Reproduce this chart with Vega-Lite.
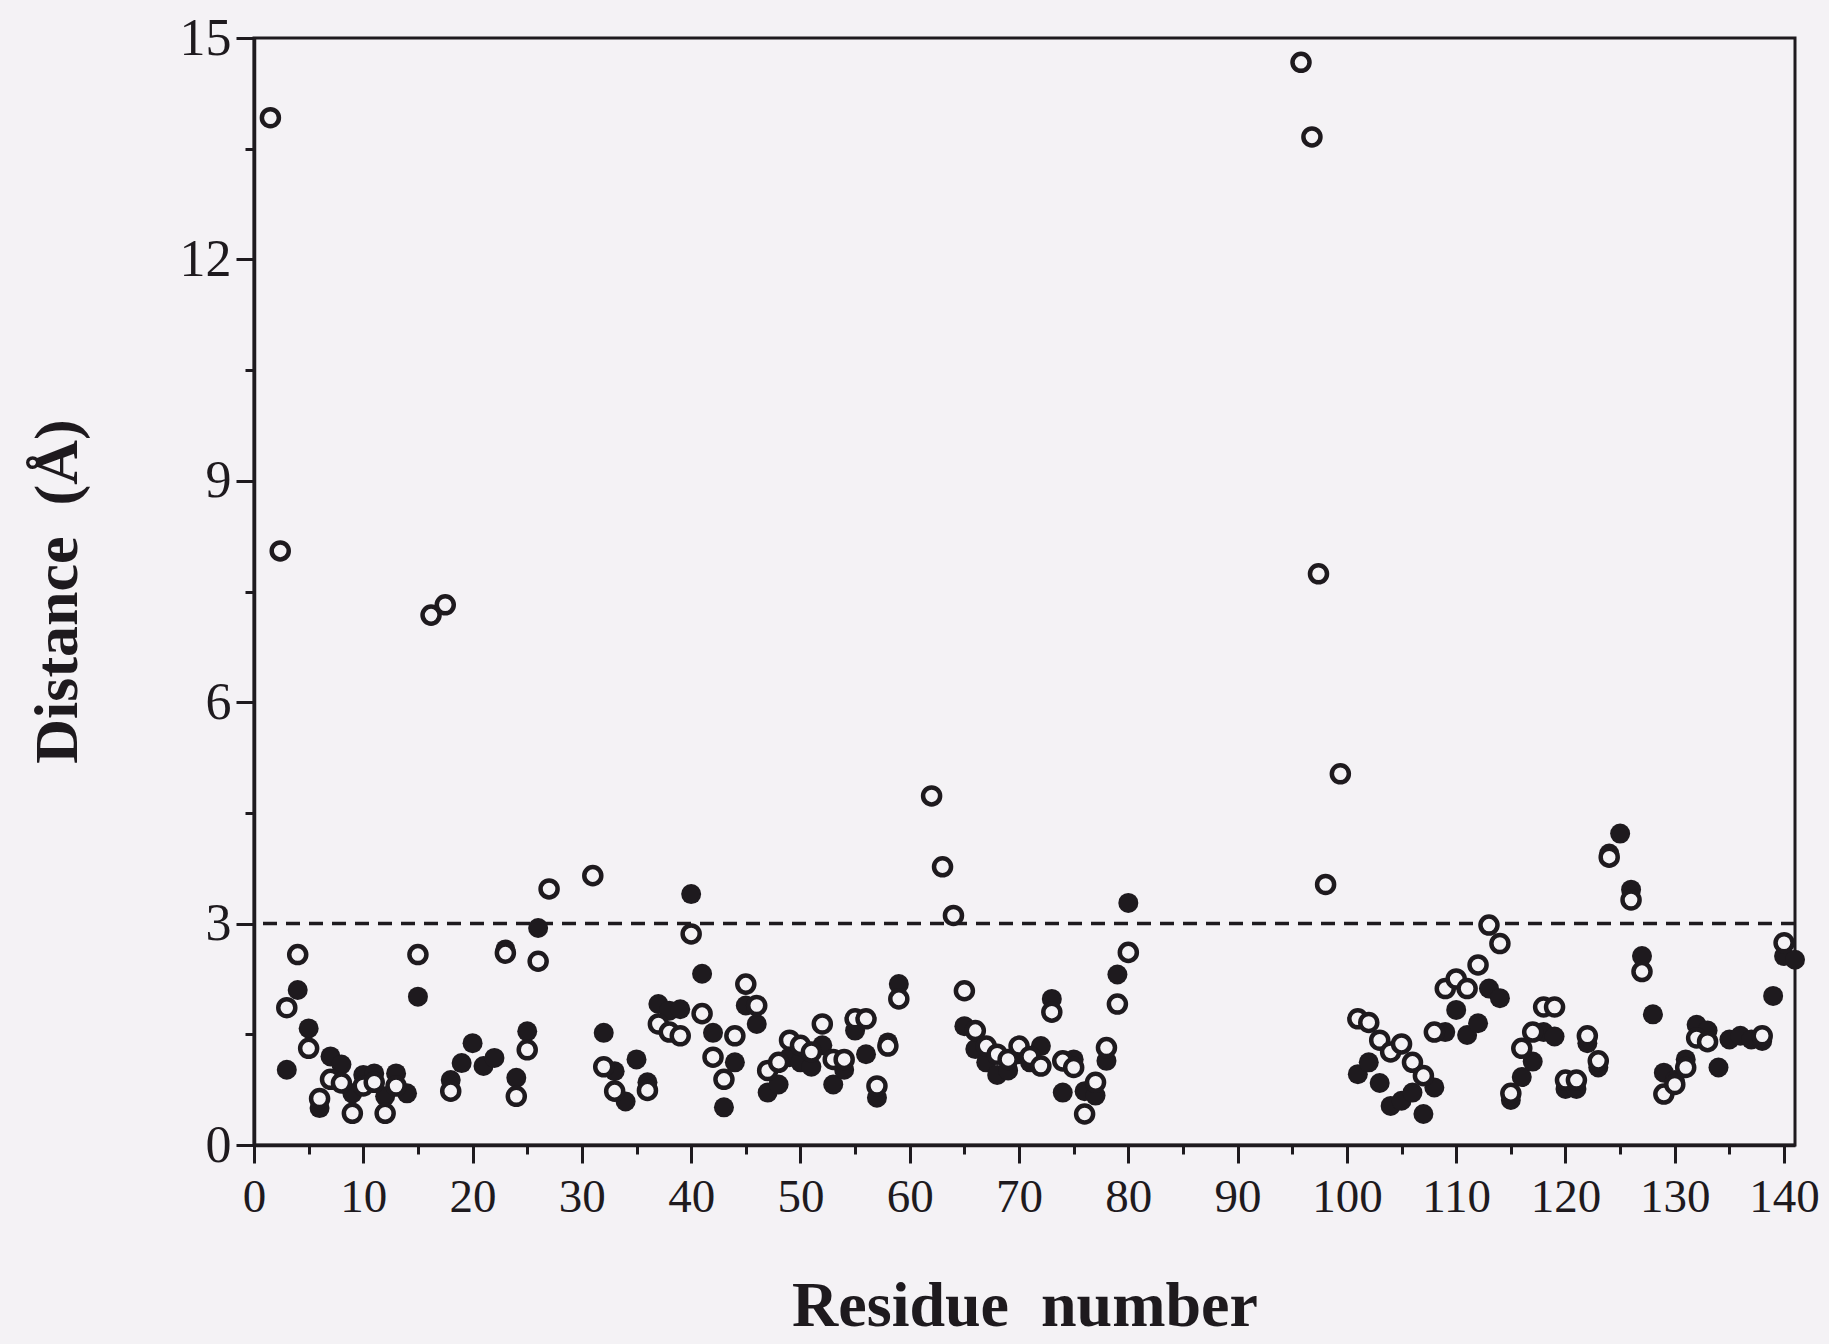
{
  "$schema": "https://vega.github.io/schema/vega-lite/v6.json",
  "width": 1541,
  "height": 1107,
  "autosize": {"type": "none"},
  "padding": {"left": 254, "top": 38, "right": 34, "bottom": 199},
  "background": "#f4f2f5",
  "config": {
    "view": {"stroke": "#1e1a1e", "strokeWidth": 3},
    "axis": {
      "domainColor": "#1e1a1e", "domainWidth": 3.5, "tickColor": "#1e1a1e", "tickWidth": 3,
      "labelColor": "#1e1a1e", "labelFont": "Liberation Serif", "labelFontSize": 47,
      "titleColor": "#1e1a1e", "titleFont": "Liberation Serif", "titleFontSize": 62, "titleFontWeight": "bold",
      "grid": false
    }
  },
  "datasets": {
    "pts": [
      {"r":3,"d":1.02,"s":"filled"},{"r":4,"d":2.10,"s":"filled"},{"r":5,"d":1.58,"s":"filled"},{"r":6,"d":0.50,"s":"filled"},{"r":7,"d":1.20,"s":"filled"},{"r":8,"d":1.09,"s":"filled"},{"r":9,"d":0.70,"s":"filled"},{"r":10,"d":0.95,"s":"filled"},{"r":11,"d":0.97,"s":"filled"},{"r":12,"d":0.66,"s":"filled"},{"r":13,"d":0.97,"s":"filled"},{"r":14,"d":0.70,"s":"filled"},{"r":15,"d":2.01,"s":"filled"},{"r":18,"d":0.88,"s":"filled"},{"r":19,"d":1.11,"s":"filled"},{"r":20,"d":1.38,"s":"filled"},{"r":21,"d":1.07,"s":"filled"},{"r":22,"d":1.18,"s":"filled"},{"r":23,"d":2.65,"s":"filled"},{"r":24,"d":0.91,"s":"filled"},{"r":25,"d":1.54,"s":"filled"},{"r":26,"d":2.94,"s":"filled"},
      {"r":32,"d":1.52,"s":"filled"},{"r":33,"d":1.00,"s":"filled"},{"r":34,"d":0.59,"s":"filled"},{"r":35,"d":1.16,"s":"filled"},{"r":36,"d":0.85,"s":"filled"},{"r":37,"d":1.91,"s":"filled"},{"r":38,"d":1.82,"s":"filled"},{"r":39,"d":1.84,"s":"filled"},{"r":40,"d":3.40,"s":"filled"},{"r":41,"d":2.32,"s":"filled"},{"r":42,"d":1.52,"s":"filled"},{"r":43,"d":0.51,"s":"filled"},{"r":44,"d":1.12,"s":"filled"},{"r":45,"d":1.89,"s":"filled"},{"r":46,"d":1.64,"s":"filled"},{"r":47,"d":0.71,"s":"filled"},{"r":48,"d":0.82,"s":"filled"},{"r":49,"d":1.19,"s":"filled"},{"r":50,"d":1.12,"s":"filled"},{"r":51,"d":1.06,"s":"filled"},{"r":52,"d":1.35,"s":"filled"},{"r":53,"d":0.82,"s":"filled"},{"r":54,"d":1.02,"s":"filled"},{"r":55,"d":1.55,"s":"filled"},{"r":56,"d":1.23,"s":"filled"},{"r":57,"d":0.64,"s":"filled"},{"r":58,"d":1.39,"s":"filled"},{"r":59,"d":2.18,"s":"filled"},
      {"r":65,"d":1.61,"s":"filled"},{"r":66,"d":1.30,"s":"filled"},{"r":67,"d":1.12,"s":"filled"},{"r":68,"d":0.95,"s":"filled"},{"r":69,"d":1.01,"s":"filled"},{"r":70,"d":1.23,"s":"filled"},{"r":71,"d":1.12,"s":"filled"},{"r":72,"d":1.34,"s":"filled"},{"r":73,"d":1.98,"s":"filled"},{"r":74,"d":0.71,"s":"filled"},{"r":75,"d":1.16,"s":"filled"},{"r":76,"d":0.73,"s":"filled"},{"r":77,"d":0.67,"s":"filled"},{"r":78,"d":1.14,"s":"filled"},{"r":79,"d":2.31,"s":"filled"},{"r":80,"d":3.28,"s":"filled"},
      {"r":101,"d":0.96,"s":"filled"},{"r":102,"d":1.12,"s":"filled"},{"r":103,"d":0.84,"s":"filled"},{"r":104,"d":0.53,"s":"filled"},{"r":105,"d":0.60,"s":"filled"},{"r":106,"d":0.71,"s":"filled"},{"r":107,"d":0.42,"s":"filled"},{"r":108,"d":0.78,"s":"filled"},{"r":109,"d":1.53,"s":"filled"},{"r":110,"d":1.83,"s":"filled"},{"r":111,"d":1.49,"s":"filled"},{"r":112,"d":1.65,"s":"filled"},{"r":113,"d":2.12,"s":"filled"},{"r":114,"d":1.99,"s":"filled"},{"r":115,"d":0.61,"s":"filled"},{"r":116,"d":0.92,"s":"filled"},{"r":117,"d":1.13,"s":"filled"},{"r":118,"d":1.53,"s":"filled"},{"r":119,"d":1.47,"s":"filled"},{"r":120,"d":0.76,"s":"filled"},{"r":121,"d":0.76,"s":"filled"},{"r":122,"d":1.38,"s":"filled"},{"r":123,"d":1.05,"s":"filled"},{"r":124,"d":3.95,"s":"filled"},{"r":125,"d":4.22,"s":"filled"},{"r":126,"d":3.46,"s":"filled"},{"r":127,"d":2.56,"s":"filled"},{"r":128,"d":1.77,"s":"filled"},{"r":129,"d":0.98,"s":"filled"},{"r":130,"d":0.88,"s":"filled"},{"r":131,"d":1.16,"s":"filled"},{"r":132,"d":1.63,"s":"filled"},{"r":133,"d":1.55,"s":"filled"},{"r":134,"d":1.05,"s":"filled"},{"r":135,"d":1.43,"s":"filled"},{"r":136,"d":1.48,"s":"filled"},{"r":137,"d":1.43,"s":"filled"},{"r":138,"d":1.41,"s":"filled"},{"r":139,"d":2.02,"s":"filled"},{"r":140,"d":2.56,"s":"filled"},{"r":141,"d":2.51,"s":"filled"},
      {"r":1.5,"d":13.92,"s":"open"},{"r":2.4,"d":8.05,"s":"open"},{"r":3,"d":1.86,"s":"open"},{"r":4,"d":2.58,"s":"open"},{"r":5,"d":1.31,"s":"open"},{"r":6,"d":0.63,"s":"open"},{"r":7,"d":0.89,"s":"open"},{"r":8,"d":0.84,"s":"open"},{"r":9,"d":0.43,"s":"open"},{"r":10,"d":0.80,"s":"open"},{"r":11,"d":0.85,"s":"open"},{"r":12,"d":0.43,"s":"open"},{"r":13,"d":0.80,"s":"open"},{"r":15,"d":2.58,"s":"open"},{"r":16.2,"d":7.18,"s":"open"},{"r":17.5,"d":7.32,"s":"open"},{"r":18,"d":0.73,"s":"open"},{"r":23,"d":2.60,"s":"open"},{"r":24,"d":0.66,"s":"open"},{"r":25,"d":1.29,"s":"open"},{"r":26,"d":2.49,"s":"open"},{"r":27,"d":3.47,"s":"open"},{"r":31,"d":3.65,"s":"open"},
      {"r":32,"d":1.06,"s":"open"},{"r":33,"d":0.73,"s":"open"},{"r":36,"d":0.74,"s":"open"},{"r":37,"d":1.64,"s":"open"},{"r":38,"d":1.53,"s":"open"},{"r":39,"d":1.48,"s":"open"},{"r":40,"d":2.86,"s":"open"},{"r":41,"d":1.78,"s":"open"},{"r":42,"d":1.19,"s":"open"},{"r":43,"d":0.89,"s":"open"},{"r":44,"d":1.48,"s":"open"},{"r":45,"d":2.18,"s":"open"},{"r":46,"d":1.89,"s":"open"},{"r":47,"d":1.01,"s":"open"},{"r":48,"d":1.12,"s":"open"},{"r":49,"d":1.42,"s":"open"},{"r":50,"d":1.35,"s":"open"},{"r":51,"d":1.26,"s":"open"},{"r":52,"d":1.64,"s":"open"},{"r":53,"d":1.16,"s":"open"},{"r":54,"d":1.16,"s":"open"},{"r":55,"d":1.71,"s":"open"},{"r":56,"d":1.71,"s":"open"},{"r":57,"d":0.80,"s":"open"},{"r":58,"d":1.34,"s":"open"},{"r":59,"d":1.98,"s":"open"},
      {"r":62,"d":4.73,"s":"open"},{"r":63,"d":3.77,"s":"open"},{"r":64,"d":3.11,"s":"open"},{"r":65,"d":2.09,"s":"open"},{"r":66,"d":1.55,"s":"open"},{"r":67,"d":1.34,"s":"open"},{"r":68,"d":1.23,"s":"open"},{"r":69,"d":1.16,"s":"open"},{"r":70,"d":1.34,"s":"open"},{"r":71,"d":1.20,"s":"open"},{"r":72,"d":1.07,"s":"open"},{"r":73,"d":1.80,"s":"open"},{"r":74,"d":1.14,"s":"open"},{"r":75,"d":1.05,"s":"open"},{"r":76,"d":0.42,"s":"open"},{"r":77,"d":0.85,"s":"open"},{"r":78,"d":1.32,"s":"open"},{"r":79,"d":1.91,"s":"open"},{"r":80,"d":2.61,"s":"open"},
      {"r":95.8,"d":14.67,"s":"open"},{"r":96.8,"d":13.66,"s":"open"},{"r":97.4,"d":7.74,"s":"open"},{"r":98.05,"d":3.53,"s":"open"},{"r":99.4,"d":5.03,"s":"open"},
      {"r":101,"d":1.71,"s":"open"},{"r":102,"d":1.66,"s":"open"},{"r":103,"d":1.42,"s":"open"},{"r":104,"d":1.26,"s":"open"},{"r":105,"d":1.37,"s":"open"},{"r":106,"d":1.12,"s":"open"},{"r":107,"d":0.94,"s":"open"},{"r":108,"d":1.53,"s":"open"},{"r":109,"d":2.12,"s":"open"},{"r":110,"d":2.25,"s":"open"},{"r":111,"d":2.12,"s":"open"},{"r":112,"d":2.44,"s":"open"},{"r":113,"d":2.98,"s":"open"},{"r":114,"d":2.73,"s":"open"},{"r":115,"d":0.70,"s":"open"},{"r":116,"d":1.31,"s":"open"},{"r":117,"d":1.53,"s":"open"},{"r":118,"d":1.87,"s":"open"},{"r":119,"d":1.87,"s":"open"},{"r":120,"d":0.88,"s":"open"},{"r":121,"d":0.88,"s":"open"},{"r":122,"d":1.48,"s":"open"},{"r":123,"d":1.14,"s":"open"},{"r":124,"d":3.90,"s":"open"},{"r":126,"d":3.32,"s":"open"},{"r":127,"d":2.35,"s":"open"},{"r":129,"d":0.69,"s":"open"},{"r":130,"d":0.82,"s":"open"},{"r":131,"d":1.05,"s":"open"},{"r":132,"d":1.45,"s":"open"},{"r":133,"d":1.40,"s":"open"},{"r":138,"d":1.48,"s":"open"},{"r":140,"d":2.74,"s":"open"}
    ]
  },
  "layer": [
    {
      "data": {"values": [{"v": 3}]},
      "mark": {"type": "rule", "strokeDash": [14, 9], "strokeWidth": 3.5, "color": "#1e1a1e"},
      "encoding": {
        "y": {"field": "v", "type": "quantitative", "scale": {"domain": [0, 15], "nice": false},
          "axis": {"orient": "left", "values": [1.5, 4.5, 7.5, 10.5, 13.5], "tickSize": 9, "labels": false, "domain": false, "title": null}}
      }
    },
    {
      "data": {"name": "pts"},
      "transform": [{"filter": "datum.s == 'filled'"}],
      "mark": {"type": "point", "shape": "circle", "filled": true, "color": "#1e1a1e", "opacity": 1, "size": 400},
      "encoding": {
        "x": {"field": "r", "type": "quantitative", "scale": {"domain": [0, 141], "nice": false},
          "axis": {"orient": "bottom", "values": [5, 15, 25, 35, 45, 55, 65, 75, 85, 95, 105, 115, 125, 135], "tickSize": 9, "labels": false, "domain": false, "title": null}},
        "y": {"field": "d", "type": "quantitative", "scale": {"domain": [0, 15], "nice": false},
          "axis": {"orient": "left", "values": [0, 3, 6, 9, 12, 15], "tickSize": 18, "labelFontSize": 52, "labelPadding": 5,
            "title": "Distance \u00a0(Å)", "titleAngle": 270, "titleX": -178, "titleY": 553, "titleAlign": "center", "titleBaseline": "alphabetic"}}
      }
    },
    {
      "data": {"name": "pts"},
      "transform": [{"filter": "datum.s == 'open'"}],
      "mark": {"type": "point", "shape": "circle", "filled": true, "fill": "#f4f2f5", "stroke": "#1e1a1e", "strokeWidth": 4.5, "opacity": 1, "size": 290},
      "encoding": {
        "x": {"field": "r", "type": "quantitative", "scale": {"domain": [0, 141], "nice": false},
          "axis": {"orient": "bottom", "values": [0, 10, 20, 30, 40, 50, 60, 70, 80, 90, 100, 110, 120, 130, 140], "tickSize": 18, "labelBaseline": "alphabetic", "labelPadding": 48, "labelFlush": false,
            "title": "Residue \u00a0number", "titleY": 180, "titleBaseline": "alphabetic", "titleFontSize": 64}},
        "y": {"field": "d", "type": "quantitative", "scale": {"domain": [0, 15], "nice": false}, "axis": null}
      }
    }
  ],
  "resolve": {"axis": {"x": "independent", "y": "independent"}}
}
